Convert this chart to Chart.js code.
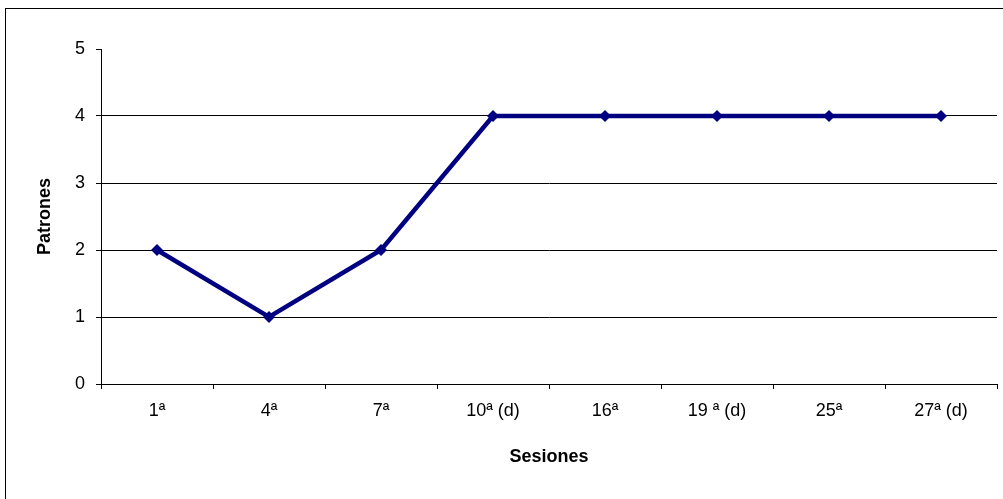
<!DOCTYPE html>
<html>
<head>
<meta charset="utf-8">
<script src="https://cdn.jsdelivr.net/npm/chart.js@4"></script>
<style>
  html, body { margin: 0; padding: 0; background: #fff; }
  #frame { position: absolute; left: 5px; top: 8px; width: 1010px; height: 510px; border: 1px solid #000; }
  #wrap { position: absolute; left: 0; top: 0; width: 1003px; height: 499px; }
</style>
</head>
<body>
<div id="frame"></div>
<div id="wrap"><canvas id="myChartLine"></canvas></div>
<script>
const sesiones = ['1ª', '4ª', '7ª', '10ª (d)', '16ª', '19 ª (d)', '25ª', '27ª (d)'];
const patrones = [2, 1, 2, 4, 4, 4, 4, 4];
const yTicks = [0, 1, 2, 3, 4, 5];

Chart.defaults.font.family = '"Liberation Sans", Arial, sans-serif';
Chart.defaults.color = '#000';

const ctxLine = document.getElementById('myChartLine');

new Chart(ctxLine, {
  type: 'line',
  data: {
    labels: sesiones,
    datasets: [{
      label: 'Patrones',
      data: patrones,
      borderColor: '#000080',
      backgroundColor: '#000080',
      borderWidth: 4.5,
      pointStyle: 'rectRot',
      pointRadius: 6,
      pointBorderWidth: 0,
      tension: 0
    }]
  },
  options: {
    responsive: true,
    maintainAspectRatio: false,
    animation: false,
    layout: { padding: { left: 0, top: 49, right: 5, bottom: 0 } },
    plugins: { legend: { display: false }, tooltip: { enabled: false } },
    scales: {
      x: {
        offset: true,
        grid: { offset: true, drawOnChartArea: false, tickLength: 5, color: '#000', lineWidth: 1 },
        border: { color: '#000', width: 1 },
        ticks: { font: { size: 18 }, padding: 11, maxRotation: 0, autoSkip: false },
        title: { display: true, text: 'Sesiones', font: { size: 18, weight: 'bold' }, padding: { bottom: 31 } },
        afterFit: (scale) => { scale.height = 115; }
      },
      y: {
        min: 0,
        max: 5,
        afterBuildTicks: (scale) => { scale.ticks = yTicks.map(v => ({ value: v })); },
        grid: {
          tickLength: 5,
          color: (c) => c.tick && c.tick.value === 5 ? 'rgba(0,0,0,0)' : '#000',
          tickColor: '#000',
          lineWidth: 1
        },
        border: { color: '#000', width: 1 },
        ticks: { font: { size: 18 }, padding: 11 },
        title: { display: true, text: 'Patrones', font: { size: 18, weight: 'bold' }, padding: { top: 34 } },
        afterFit: (scale) => { scale.width = 101; }
      }
    }
  }
});
</script>
</body>
</html>
